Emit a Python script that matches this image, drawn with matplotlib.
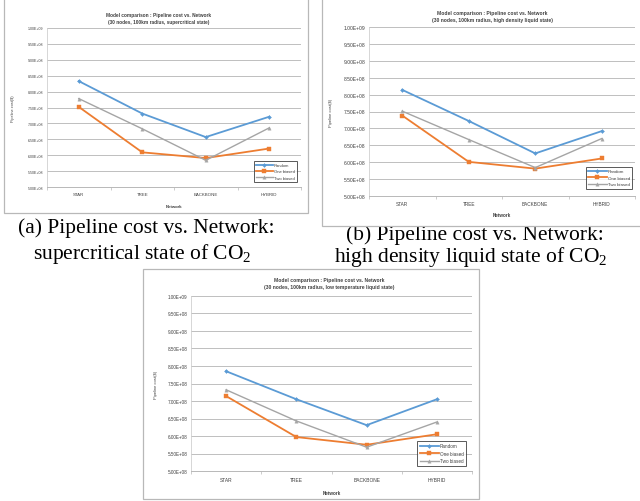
import matplotlib
matplotlib.use("Agg")
import matplotlib.pyplot as plt
from matplotlib.patches import Rectangle
from matplotlib.ticker import FuncFormatter, FixedLocator
import numpy as np

W, H = 640, 502

categories = ["STAR", "TREE", "BACKBONE", "HYBRID"]
series_names = ["Random", "One biased", "Two biased"]

# pipeline cost ($)
super_random = [8.33e8, 7.31e8, 6.57e8, 7.21e8]
super_one = [7.52e8, 6.09e8, 5.91e8, 6.21e8]
super_two = [7.78e8, 6.83e8, 5.84e8, 6.86e8]

hd_random = [8.14e8, 7.22e8, 6.26e8, 6.92e8]
hd_one = [7.38e8, 6.01e8, 5.81e8, 6.11e8]
hd_two = [7.51e8, 6.67e8, 5.84e8, 6.70e8]

lt_random = [7.85e8, 7.05e8, 6.31e8, 7.05e8]
lt_one = [7.14e8, 5.97e8, 5.75e8, 6.05e8]
lt_two = [7.32e8, 6.43e8, 5.68e8, 6.40e8]

y_ticks = [5.0e8, 5.5e8, 6.0e8, 6.5e8, 7.0e8, 7.5e8, 8.0e8, 8.5e8, 9.0e8, 9.5e8, 1.0e9]

COLORS = ["#5b9bd5", "#ed7d31", "#a5a5a5"]
MARKERS = ["D", "s", "^"]
MSIZES = [2.0, 2.8, 2.4]
LWIDTHS = [1.3, 1.3, 1.0]

plt.rcParams['font.family'] = ['Liberation Sans', 'DejaVu Sans']


def px_rect(x0, y0, x1, y1):
    return [x0 / W, 1 - y1 / H, (x1 - x0) / W, (y1 - y0) / H]


def draw_chart(fig, frame, box, title, title_xy, series, legend_box, fs, ylab_x, xlab_y):
    fx0, fy0, fx1, fy1 = frame
    r = px_rect(fx0, fy0, fx1, fy1)
    fig.add_artist(Rectangle((r[0], r[1]), r[2], r[3], transform=fig.transFigure,
                             facecolor="white", edgecolor="#b8b8b8", lw=0.9, zorder=1))

    x0, y0, x1, y1 = box
    ax = fig.add_axes(px_rect(x0, y0, x1, y1))
    ax.set_zorder(2)
    ax.patch.set_alpha(0)
    x = np.arange(len(categories))
    for vals, name, c, m, ms, lw in zip(series, series_names, COLORS, MARKERS, MSIZES, LWIDTHS):
        ax.plot(x, vals, color=c, marker=m, markersize=ms, lw=lw, label=name,
                markeredgewidth=0.3, zorder=3)

    ax.set_xlim(-0.5, len(categories) - 0.5)
    ax.set_ylim(5.0e8, 1.0e9)
    ax.set_yticks(y_ticks)
    ax.yaxis.set_major_formatter(FuncFormatter(lambda v, p: "%.2E" % v))
    ax.set_xticks(x)
    ax.set_xticklabels(categories)
    ax.xaxis.set_minor_locator(FixedLocator(np.arange(-0.5, len(categories), 1.0)))
    ax.tick_params(axis="x", which="major", length=0, labelsize=fs[1], pad=fs[4], colors="#404040")
    ax.tick_params(axis="x", which="minor", length=2, width=0.5, color="#b8b8b8")
    ax.tick_params(axis="y", length=0, labelsize=fs[0], pad=2.5, colors="#404040")
    ax.grid(axis="y", color="#bfbfbf", lw=0.7)
    ax.set_axisbelow(True)
    for s in ["top", "right"]:
        ax.spines[s].set_visible(False)
    ax.spines["left"].set_color("#d0d0d0")
    ax.spines["left"].set_linewidth(0.6)
    ax.spines["bottom"].set_color("#b8b8b8")
    ax.spines["bottom"].set_linewidth(0.7)

    ax.set_ylabel("Pipeline cost($)", fontsize=fs[3], color="#404040")
    ax.yaxis.set_label_coords((ylab_x - x0) / (x1 - x0), 0.5)
    ax.set_xlabel("Network", fontsize=fs[3] + 0.3, fontweight="bold", color="#404040")
    ax.xaxis.set_label_coords(0.5, (y1 - xlab_y) / (y1 - y0))

    tx, ty = title_xy
    fig.text(tx / W, 1 - ty / H, title, ha="center", va="center", fontsize=fs[2],
             fontweight="bold", color="#404040", linespacing=1.4, zorder=4)

    lx0, ly0, lx1, ly1 = legend_box
    lr = px_rect(lx0, ly0, lx1, ly1)
    leg = ax.legend(loc="upper right", bbox_to_anchor=(lr[0] + lr[2], lr[1] + lr[3]),
                    bbox_transform=fig.transFigure, fontsize=fs[5], frameon=True,
                    fancybox=False, edgecolor="#303030", handlelength=4.2, numpoints=1,
                    borderpad=0.5, labelspacing=0.55, handletextpad=0.2, borderaxespad=0)
    leg.get_frame().set_linewidth(0.7)
    for t in leg.get_texts():
        t.set_color("#404040")
    return ax


fig = plt.figure(figsize=(W / 100, H / 100), dpi=100)
fig.patch.set_facecolor("white")

cap_font = ['Liberation Serif', 'DejaVu Serif']
co2 = r"CO$_\mathregular{2}$"

# captions drawn under the chart frames (the (b) frame clips the top of its first line)
fig.text(146 / W, 1 - 233 / H, "(a) Pipeline cost vs. Network:", ha="center", va="baseline",
         fontsize=15.5, family=cap_font, zorder=0.5)
fig.text(142 / W, 1 - 259 / H, "supercritical state of " + co2, ha="center", va="baseline",
         fontsize=15.5, family=cap_font, zorder=0.5)
fig.text(475 / W, 1 - 240 / H, "(b) Pipeline cost vs. Network:", ha="center", va="baseline",
         fontsize=15.5, family=cap_font, zorder=0.5)
fig.text(471 / W, 1 - 262 / H, "high density liquid state of " + co2, ha="center", va="baseline",
         fontsize=15.5, family=cap_font, zorder=0.5)

# fonts: ytick, xtick, title, axis label, xtick pad, legend
draw_chart(fig, (4, -3, 308, 214), (47, 29, 301, 188),
           "Model comparison : Pipeline cost vs. Network\n(30 nodes, 100km radius, supercritical state)",
           (159, 19), [super_random, super_one, super_two], (236, 162, 297, 188),
           (2.6, 3.2, 3.4, 2.8, 3.5, 3.0), 15, 205)

draw_chart(fig, (322, -3, 643, 227), (369, 28, 635, 197),
           "Model comparison : Pipeline cost vs. Network\n(30 nodes, 100km radius, high density liquid state)",
           (492, 17), [hd_random, hd_one, hd_two], (567, 168, 632, 196),
           (3.6, 3.4, 3.6, 3.0, 3.5, 3.2), 333, 213)

draw_chart(fig, (143, 270, 479, 500), (191, 297, 472, 472),
           "Model comparison : Pipeline cost vs. Network\n(30 nodes, 100km radius, low temperature liquid state)",
           (329, 284), [lt_random, lt_one, lt_two], (399, 442, 466, 472),
           (3.3, 3.5, 3.6, 3.0, 4.0, 3.3), 158, 491)

fig.savefig("out.png", dpi=100, facecolor="white")
